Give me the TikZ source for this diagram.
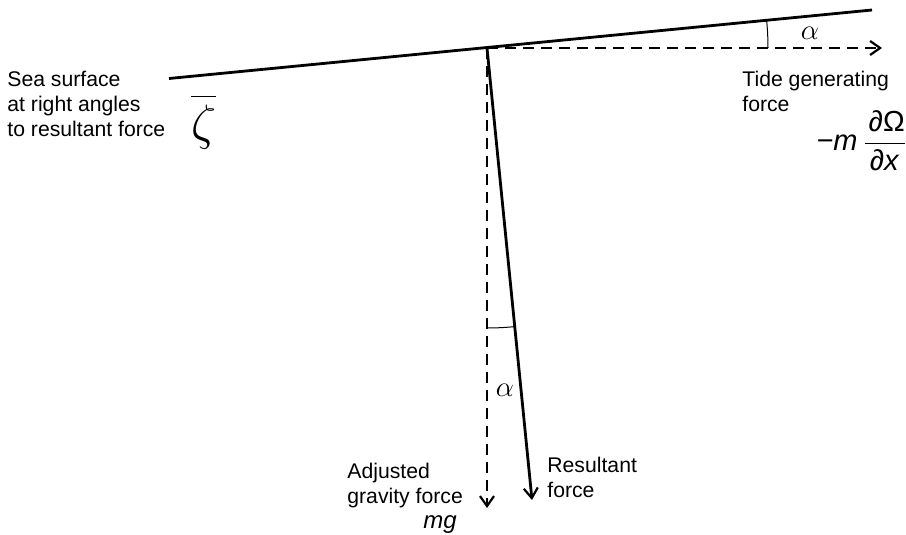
\documentclass[tikz,border=0pt]{standalone}
\usepackage{fontspec}
\setmainfont{Liberation Sans}
\usetikzlibrary{arrows.meta,calc}
\begin{document}
\begin{tikzpicture}[x=0.5pt,y=-0.5pt,
  solidline/.style={line width=1.4pt},
  dashline/.style={line width=1.4pt, dash pattern=on 5.5pt off 3.5pt},
  tipped/.style={-{Straight Barb[length=5pt,width=7pt,line width=1.1pt]}},
  angarc/.style={line width=0.5pt},
  lbl/.style={font=\fontsize{10.6}{12.5}\selectfont, inner sep=0pt, align=left, anchor=base west},
  greek/.style={font=\fontsize{15}{17}\selectfont, inner sep=0pt},
  mathlbl/.style={font=\fontsize{14.5}{17}\selectfont, inner sep=0pt, anchor=base west}]
\useasboundingbox (0,0) rectangle (906,535);

\coordinate (O) at (487,48);
\coordinate (L) at (169,78.5);
\coordinate (R) at (872,10);
\coordinate (T) at (882,48);
\coordinate (G) at (487,508);
\coordinate (Res) at (532,500);

% sea surface
\draw[solidline] (L) -- (R);
% tide generating force
\draw[dashline,tipped] (O) -- (T);
% adjusted gravity
\draw[dashline,tipped] (O) -- (G);
% resultant
\draw[solidline,tipped] (O) -- (Res);

% angle arcs
\draw[angarc] ($(O)+(0:281)$) arc[start angle=0,end angle=-5.5,radius=281];
\draw[angarc] ($(O)+(90:280)$) arc[start angle=90,end angle=84.5,radius=280];

% labels
\node[greek] (a1) at (810,33) {$\alpha$};
\node[greek] (a2) at (505,390) {$\alpha$};

\node[lbl] (sea) at (7,136.7) {Sea surface\\at right angles\\to resultant force};
\node[inner sep=0pt, anchor=base west, font=\fontsize{26}{30}\selectfont] (zeta) at (191,140)
  {$\overline{\rule{0pt}{20.5pt}\zeta}$};

\node[lbl] (tide) at (742,111.5) {Tide generating\\force};
\node[mathlbl] (tgf) at (816,151)
  {\textit{−m}\,$\displaystyle\frac{\hspace{2pt}\mbox{∂Ω}}{\mbox{∂\textit{x}}}$};

\node[lbl] (adj) at (347,503.3) {Adjusted\\gravity force};
\node[font=\fontsize{12}{14}\selectfont\itshape, inner sep=0pt, anchor=base east] (mg) at (457,528) {mg};
\node[lbl] (resl) at (547,497) {Resultant\\force};
\end{tikzpicture}
\end{document}
